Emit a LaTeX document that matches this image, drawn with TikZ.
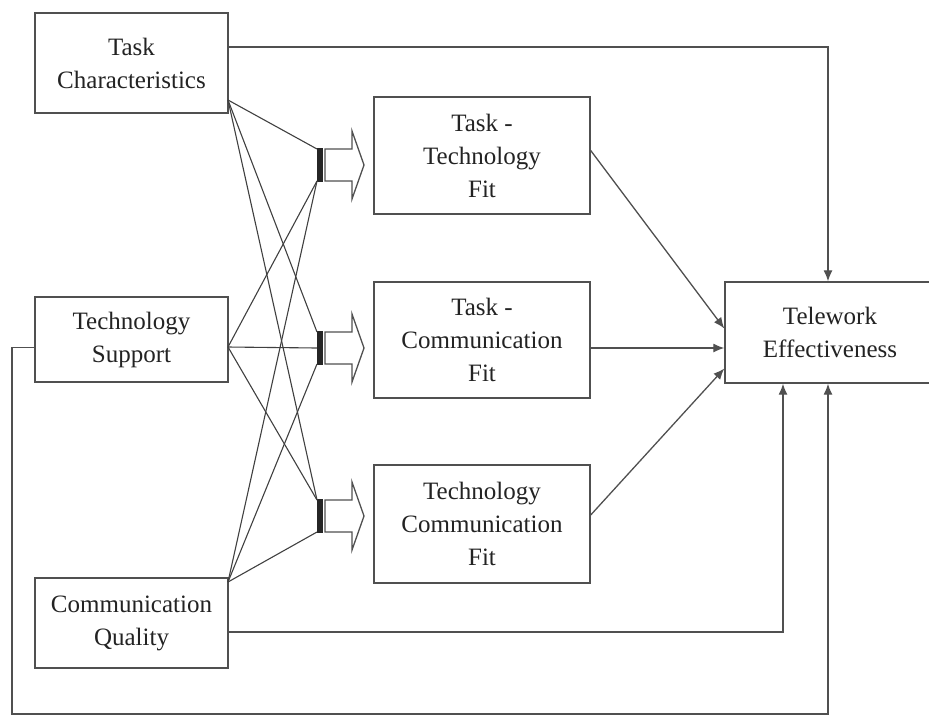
\documentclass[tikz,border=0pt]{standalone}
\usepackage{fontspec}
\setmainfont{Liberation Serif}
\usetikzlibrary{arrows.meta}
\definecolor{ink}{RGB}{80,80,80}
\definecolor{txt}{RGB}{35,35,35}
\tikzset{
  box/.style={draw=ink, line width=1.4pt, fill=white, rectangle, align=center,
    text=txt, font=\fontsize{25}{33}\selectfont, inner sep=0pt},
  link/.style={draw=ink, line width=1.3pt},
  arrowlink/.style={link, -{Latex[length=11pt,width=9pt]}},
  thin link/.style={draw=ink!80!black, line width=1.1pt},
  fatarrow/.style={draw=ink, line width=1.3pt, fill=white, line join=miter},
}
% bar plus hollow block arrow, centred vertically at #2; corner coordinates named #1top/#1mid/#1bot
\newcommand{\joinarrow}[2]{%
  \fill[black!85] (317,#2-17) rectangle (322.5,#2+17);
  \draw[fatarrow] (325,#2-16) -- (352,#2-16) -- (352,#2-34) -- (364,#2)
    -- (352,#2+34) -- (352,#2+16) -- (325,#2+16) -- cycle;
  \coordinate (#1top) at (317,#2-16);
  \coordinate (#1mid) at (317,#2);
  \coordinate (#1bot) at (317,#2+16);
}
\begin{document}
\begin{tikzpicture}[x=1pt,y=-1pt]
\useasboundingbox (0,0) rectangle (929,716);

% left column: antecedents
\node[box, minimum width=193pt, minimum height=100pt] (tc) at (131.5,63) {Task\\Characteristics};
\node[box, minimum width=193pt, minimum height=85pt] (ts) at (131.5,339.5) {Technology\\Support};
\node[box, minimum width=193pt, minimum height=90pt] (cq) at (131.5,623) {Communication\\Quality};

% middle column: fit constructs
\node[box, minimum width=216pt, minimum height=117pt] (ttf) at (482,155.5) {Task -\\Technology\\Fit};
\node[box, minimum width=216pt, minimum height=116pt] (tcf) at (482,340) {Task -\\Communication\\Fit};
\node[box, minimum width=216pt, minimum height=118pt] (tecf) at (482,524) {Technology\\Communication\\Fit};

% outcome
\node[box, minimum width=210pt, minimum height=101pt] (te) at (830,332.5) {Telework\\Effectiveness};

% junction bars with block arrows
\joinarrow{ja}{165}
\joinarrow{jb}{348}
\joinarrow{jc}{516}

% fan-out points on the antecedent boxes
\coordinate (tcp) at (228,100);
\coordinate (tsp) at (228,347);
\coordinate (cqp) at (228,582);

\draw[thin link] (tcp) -- (jatop);
\draw[thin link] (tcp) -- (jbtop);
\draw[thin link] (tcp) -- (jctop);
\draw[thin link] (tsp) -- (jabot);
\draw[thin link] (tsp) -- (jbmid);
\draw[thin link] (tsp) -- (jctop);
\draw[thin link] (cqp) -- (jabot);
\draw[thin link] (cqp) -- (jbbot);
\draw[thin link] (cqp) -- (jcbot);

% fit constructs to effectiveness
\draw[arrowlink] ([yshift=5pt]ttf.east) -- ([yshift=4pt]te.west);
\draw[arrowlink] ([yshift=-8pt]tcf.east) -- ([yshift=-15.5pt]te.west);
\draw[arrowlink] ([yshift=9pt]tecf.east) -- ([yshift=-36pt]te.west);

% direct paths to effectiveness
\draw[arrowlink] ([yshift=16pt]tc.east) -| ([xshift=-2pt]te.north);
\draw[arrowlink] ([yshift=-9pt]cq.east) -| ([xshift=-47pt]te.south);
\coordinate (loopl) at (12,714);
\draw[arrowlink] ([yshift=-8pt]ts.west) -| (loopl) -| ([xshift=-2pt]te.south);
\end{tikzpicture}
\end{document}
